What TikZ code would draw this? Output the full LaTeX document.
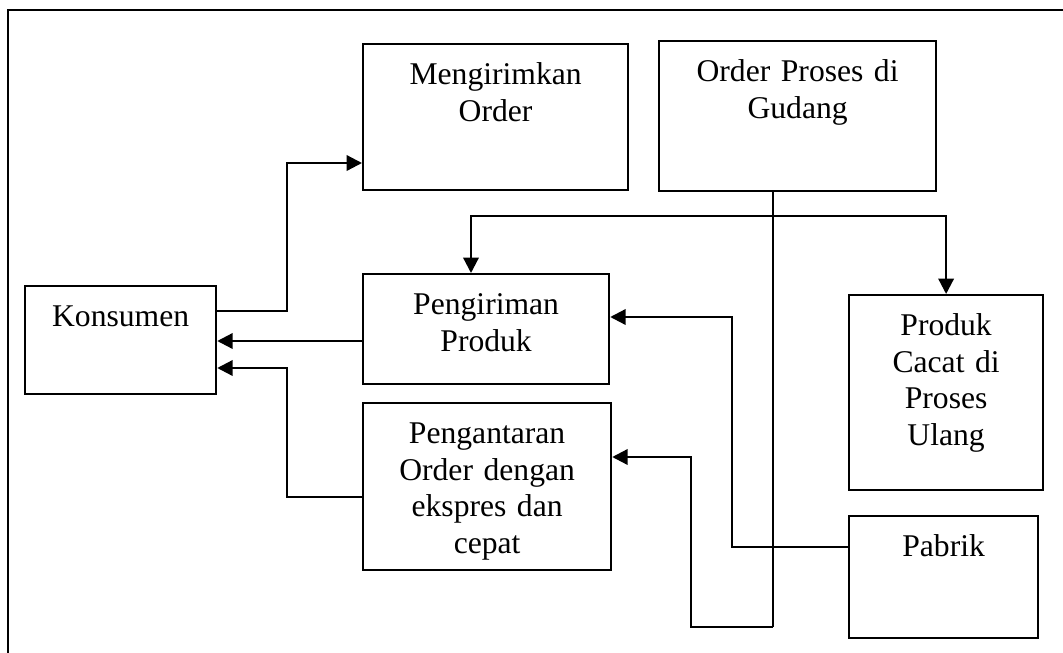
\documentclass[tikz,border=0pt]{standalone}
\usepackage{fontspec}
\setmainfont{Liberation Serif}
\usepackage{tikz}
\usetikzlibrary{arrows.meta}

\begin{document}
\begin{tikzpicture}[x=0.02cm, y=-0.02cm, >={Triangle[length=3.1mm,width=3.1mm]},
	blok/.style = {draw, line width=1.3pt, anchor=north west, inner sep=0pt, align=center, text height=0.8cm, font=\fontsize{18}{21}\selectfont},
	alur/.style = {->, line width=1.3pt}
	]
	\useasboundingbox (0,0) rectangle (1063,653);
	%BINGKAI
	\draw[line width=1.4pt] (8,653) -- (8,10) -- (1063,10);
	%KOTAK
	\node[blok, text width=3.82cm, text depth=1.36cm] (kons) at (24,285) {Konsumen};
	\node[blok, text width=5.30cm, text depth=2.12cm] (kirim) at (362,43) {Mengirimkan\\Order};
	\node[blok, text width=5.54cm, text depth=2.20cm] (gudang) at (658,40) {Order Proses di\\Gudang};
	\node[blok, text width=4.92cm, text depth=1.40cm] (produk) at (362,273) {Pengiriman\\Produk};
	\node[blok, text width=4.96cm, text depth=2.54cm] (antar) at (362,402) {Pengantaran\\Order dengan\\ekspres dan\\cepat};
	\node[blok, text width=3.88cm, text depth=3.10cm] (cacat) at (848,294) {Produk\\Cacat di\\Proses\\Ulang};
	\node[blok, text width=3.78cm, text depth=1.64cm] (pabrik) at (848,515) {Pabrik};
	%TITIK BELOK
	\coordinate (cabang) at (773,216);
	\coordinate (bawah) at (773,627);
	%ALUR
	\draw[alur] (kons.east |- 0,311) -- (287,311) |- (kirim.west |- 0,163);
	\draw[alur] (produk.west |- 0,341) -- (kons.east |- 0,341);
	\draw[alur] (antar.west |- 0,497) -| (287,368) -- (kons.east |- 0,368);
	\draw[line width=0.8pt] (gudang.south -| cabang) -- (bawah);
	\draw[alur] (cabang) -| (produk.north -| 471,0);
	\draw[alur] (cabang) -| (cacat.north);
	\draw[alur] (bawah) -| (691,457) -- (antar.east |- 0,457);
	\draw[alur] (pabrik.west |- 0,547) -| (732,317) -- (produk.east |- 0,317);
\end{tikzpicture}
\end{document}
